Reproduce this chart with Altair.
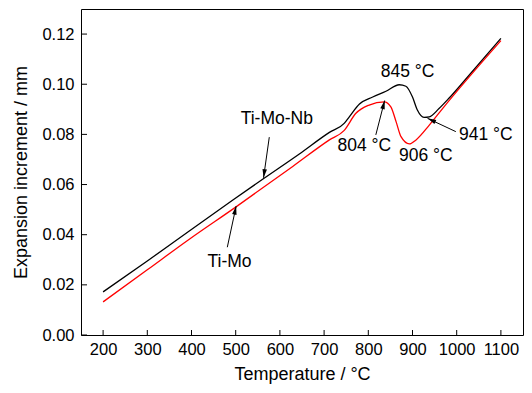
import math
import altair as alt
import pandas as pd

# ---- data ----
nb_temp = [200, 300, 395, 492, 565, 644, 712, 746, 757, 780, 810, 840, 870, 885, 900, 911, 926, 938, 960, 983, 1030, 1100]
nb_val = [0.0172, 0.0295, 0.0415, 0.0536, 0.0626, 0.0722, 0.0808, 0.0845, 0.0870, 0.0921, 0.0949, 0.0972, 0.0998, 0.0992,
          0.0949, 0.0897, 0.0868, 0.0870, 0.0903, 0.0945, 0.1040, 0.1183]
mo_temp = [200, 300, 395, 500, 629, 712, 745, 772, 802, 836, 851, 863, 874, 893, 908, 938, 968, 1100]
mo_val = [0.0132, 0.0260, 0.0382, 0.0510, 0.0672, 0.0778, 0.0815, 0.0884, 0.0917, 0.0930, 0.0910, 0.0850, 0.0791,
          0.0762, 0.0778, 0.0837, 0.0903, 0.1174]

x_ticks = [200, 300, 400, 500, 600, 700, 800, 900, 1000, 1100]
y_ticks = [0.00, 0.02, 0.04, 0.06, 0.08, 0.10, 0.12]

label_text = ["Ti-Mo-Nb", "Ti-Mo", "845 °C", "804 °C", "906 °C", "941 °C"]
label_temp = [593, 486, 889, 791, 930, 1066]
label_val = [0.0862, 0.0290, 0.1048, 0.0752, 0.0712, 0.0798]

arrow_t0 = [576, 481, 817, 998]
arrow_v0 = [0.0789, 0.0350, 0.0798, 0.0811]
arrow_t1 = [563, 501, 837, 934]
arrow_v1 = [0.0627, 0.0514, 0.0935, 0.0864]

W, H = 442, 326
XD = [150, 1150]
YD = [0, 0.13]
FONT = "Liberation Sans"

lines = pd.DataFrame(
    {"T": nb_temp + mo_temp, "v": nb_val + mo_val,
     "s": ["Ti-Mo-Nb"] * len(nb_temp) + ["Ti-Mo"] * len(mo_temp)}
)
xs = alt.Scale(domain=XD, nice=False, zero=False)
ys = alt.Scale(domain=YD, nice=False, zero=False)

base = alt.Chart(lines)
curve = base.mark_line(strokeWidth=1.3, interpolate="monotone").encode(
    x=alt.X("T:Q", scale=xs,
            axis=alt.Axis(values=x_ticks, title="Temperature / °C", format="d")),
    y=alt.Y("v:Q", scale=ys,
            axis=alt.Axis(values=y_ticks, title="Expansion increment / mm", format=".2f")),
    color=alt.Color("s:N", scale=alt.Scale(domain=["Ti-Mo-Nb", "Ti-Mo"], range=["#000000", "#ff0000"]), legend=None),
    detail="s:N",
)

xt = alt.Chart(pd.DataFrame({"T": x_ticks})).mark_rule(color="black", strokeWidth=1).encode(
    x=alt.X("T:Q", scale=xs), y=alt.value(H), y2=alt.value(H - 5)
)
yt = alt.Chart(pd.DataFrame({"v": y_ticks})).mark_rule(color="black", strokeWidth=1).encode(
    y=alt.Y("v:Q", scale=ys), x=alt.value(0), x2=alt.value(6)
)

sx = W / (XD[1] - XD[0])
sy = H / (YD[1] - YD[0])
angles = []
for a, b, c, d in zip(arrow_t0, arrow_v0, arrow_t1, arrow_v1):
    dx = (c - a) * sx
    dy = -(d - b) * sy
    angles.append(math.degrees(math.atan2(dx, -dy)) % 360)
arr = pd.DataFrame({"t0": arrow_t0, "v0": arrow_v0, "t1": arrow_t1, "v1": arrow_v1, "ang": angles})

shaft = alt.Chart(arr).mark_rule(color="black", strokeWidth=1).encode(
    x=alt.X("t0:Q", scale=xs), y=alt.Y("v0:Q", scale=ys), x2="t1:Q", y2="v1:Q"
)
head = alt.Chart(arr).mark_point(
    shape="M0,0L-0.26,1L0.26,1Z", filled=True, color="black", opacity=1, size=300, strokeWidth=0
).encode(
    x=alt.X("t1:Q", scale=xs), y=alt.Y("v1:Q", scale=ys), angle=alt.Angle("ang:Q", scale=None)
)

labels = alt.Chart(pd.DataFrame({"t": label_temp, "v": label_val, "txt": label_text})).mark_text(
    font=FONT, fontSize=17.5, color="black", align="center", baseline="middle"
).encode(x=alt.X("t:Q", scale=xs), y=alt.Y("v:Q", scale=ys), text="txt:N")

chart = alt.layer(curve, xt, yt, shaft, head, labels).properties(
    width=W, height=H,
    autosize=alt.AutoSizeParams(type="none"),
    padding={"left": 73, "top": 1, "right": 1, "bottom": 50},
).configure_view(stroke="black", strokeWidth=1).configure_axis(
    grid=False, domain=False, ticks=False,
    labelFont=FONT, labelFontSize=16.5, labelColor="black",
    titleFont=FONT, titleFontSize=18, titleColor="black", titleFontWeight="normal",
).configure_axisX(labelPadding=6, titlePadding=8).configure_axisY(labelPadding=7, titlePadding=11)

chart.save("out.html", embed_options={"renderer": "svg", "actions": False})
